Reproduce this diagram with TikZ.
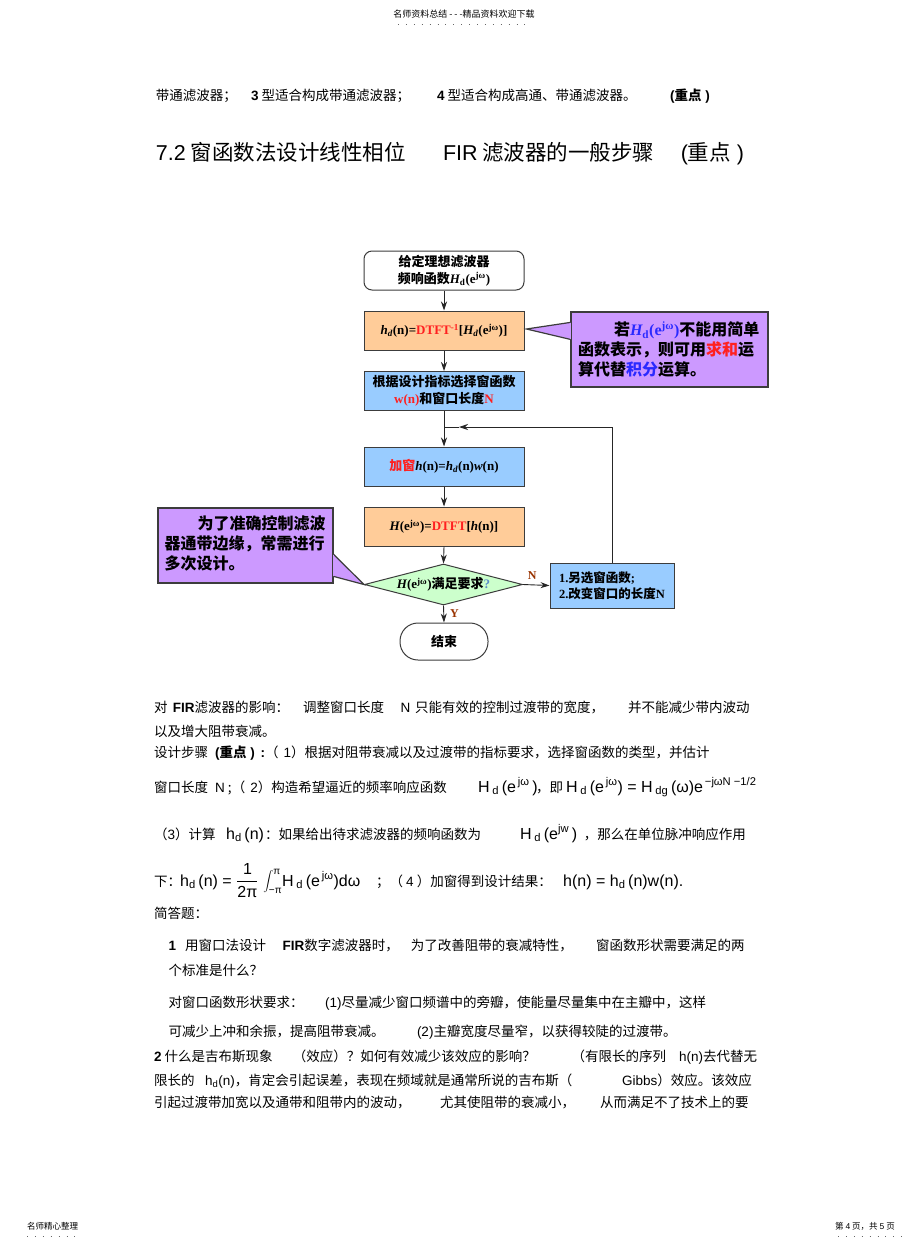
\documentclass[tikz,border=0pt]{standalone}
\usepackage{fontspec}
\setmainfont{Noto Sans CJK SC}
\newfontfamily\lat{Liberation Sans}
\newfontfamily\tms{Liberation Serif}
\usetikzlibrary{shapes.geometric,arrows.meta,calc}
\definecolor{boxor}{HTML}{FFCC99}
\definecolor{boxbl}{HTML}{99CCFF}
\definecolor{boxgr}{HTML}{CCFFCC}
\definecolor{callp}{HTML}{CC99FF}
\definecolor{edgeg}{HTML}{3C3C3C}
\definecolor{tred}{HTML}{FF2020}
\definecolor{tblue}{HTML}{2A2AFF}
\definecolor{lblbr}{HTML}{993300}
\definecolor{qblue}{HTML}{5B8FC9}
\newcommand\fb{\tms\bfseries\upshape}
\newcommand\fbi{\tms\bfseries\itshape}
\newcommand\lsub[1]{\textsubscript{#1}}
\newcommand\lsup[1]{\textsuperscript{#1}}
\begin{document}
\begin{tikzpicture}[x=1pt,y=-1pt,
  bt/.style={anchor=base west, inner sep=0pt, font=\fontsize{13.5}{16}\selectfont},
  fm/.style={anchor=base west, inner sep=0pt, font=\lat\fontsize{16}{18}\selectfont},
  tt/.style={anchor=base west, inner sep=0pt, font=\fontsize{21.5}{24}\selectfont},
  sm/.style={anchor=base west, inner sep=0pt, font=\fontsize{8.5}{10}\selectfont},
  dots/.style={dash pattern=on 0.9pt off 7pt, line width=0.9pt, black!60},
  fbox/.style={draw=edgeg, line width=1pt, minimum width=160pt, minimum height=39pt, inner sep=2pt, align=center, font=\fontsize{13}{17}\selectfont\bfseries},
  arr/.style={-{Stealth[length=9pt,width=6pt]}, line width=0.9pt, black!85},
  plain/.style={line width=0.9pt, black!85},
  callout/.style={draw=edgeg, fill=callp, line width=1.2pt, inner sep=0pt, font=\fontsize{16}{20}\selectfont\bfseries, align=left},
  yn/.style={font=\fb\fontsize{12}{14}\selectfont, text=lblbr, inner sep=1pt}
]
\fill[white] (0,0) rectangle (920,1248);
\path[use as bounding box] (0,0) rectangle (920,1248);

% header / footer
\node[anchor=base, inner sep=0pt, font=\fontsize{9}{10}\selectfont] (hdr) at (464,17.5) {名师资料总结 - - -精品资料欢迎下载};
\draw[dots] (398,24.5) -- (532,24.5);
\node[sm] (ftl) at (27,1229) {名师精心整理};
\draw[dots] (27,1236.5) -- (77,1236.5);
\node[sm] (ftr) at (835,1229) {第 {\lat 4} 页，共 {\lat 5} 页};
\draw[dots] (838,1236.5) -- (903,1236.5);

% line 1 and title
\node[bt] (l1a) at (155.7,100) {带通滤波器；};
\node[bt] (l1b) at (250.8,100) {{\lat\bfseries 3} 型适合构成带通滤波器；};
\node[bt] (l1c) at (436.8,100) {{\lat\bfseries 4} 型适合构成高通、带通滤波器。};
\node[bt] (l1d) at (670,100) {{\lat\bfseries (}{\bfseries 重点}{\lat\bfseries\ )}};
\node[tt] (ta) at (155.7,160) {{\lat 7.2} 窗函数法设计线性相位};
\node[tt] (tb) at (442.8,160) {{\lat FIR} 滤波器的一般步骤};
\node[tt] (tc) at (680.6,160) {{\lat (}重点{\lat\ )}};

% ---------------- flowchart ----------------
\node[fbox, rounded corners=8pt, fill=white] (st) at (444,270.5) {给定理想滤波器\\频响函数{\fbi H}{\fb\lsub{d}(e\lsup{jω})}};
\node[fbox, fill=boxor] (b2) at (444,330.5) {{\fbi h\lsub{d}}{\fb(n)=}{\fb\color{tred}DTFT\lsup{-1}}{\fb[}{\fbi H\lsub{d}}{\fb(e\lsup{jω})]}};
\node[fbox, fill=boxbl] (b3) at (444,391) {根据设计指标选择窗函数\\{\fb\color{tred}w(n)}和窗口长度{\fb\color{tred}N}};
\node[fbox, fill=boxbl] (b4) at (444,466.5) {{\color{tred}加窗}{\fbi h}{\fb(n)=}{\fbi h\lsub{d}}{\fb(n)}{\fbi w}{\fb(n)}};
\node[fbox, fill=boxor] (b5) at (444,526.5) {{\fbi H}{\fb(e\lsup{jω})=}{\fb\color{tred}DTFT}{\fb[}{\fbi h}{\fb(n)]}};
\node[diamond, draw=edgeg, fill=boxgr, line width=1pt, aspect=3.85, inner sep=0pt, minimum width=158pt, minimum height=41pt, font=\fontsize{13}{15}\selectfont\bfseries] (dm) at (443.5,584.5) {{\fbi H}{\fb(e\lsup{jω})}满足要求{\fb\color{qblue}?}};
\node[draw=edgeg, line width=1pt, rounded corners=18pt, minimum width=88pt, minimum height=37pt, fill=white, font=\fontsize{13}{15}\selectfont\bfseries] (en) at (444,641.5) {结束};
\node[fbox, fill=boxbl, minimum width=124pt, minimum height=45pt, align=left, font=\fontsize{12.5}{16.5}\selectfont\bfseries] (rb) at (612,585.5) {{\fb 1.}另选窗函数{\fb;}\\{\fb 2.}改变窗口的长度{\fb N}};

\coordinate (jn) at (444,427);
\coordinate (fbtip) at (459,427);

\draw[arr] (st.south) -- (b2.north);
\draw[arr] (b2.south) -- (b3.north);
\draw[arr] (b3.south) -- (b4.north);
\draw[arr] (b4.south) -- (b5.north);
\draw[arr] (b5.south) -- (dm.north);
\draw[arr] (dm.east) -- (rb.west) node[yn, pos=0.35, above=4pt] (nl) {N};
\draw[arr] (dm.south) -- (en.north) node[yn, midway, right=5pt] (yl) {Y};
\draw[arr] (rb.north) |- (fbtip);
\draw[plain] (fbtip) -- (jn);

% right callout
\node[callout, minimum width=197pt, minimum height=75pt, text width=183pt, inner xsep=7pt] (rc) at (669.5,349.5)
 {\hspace*{36pt}若{\color{tblue}{\fbi H}{\fb\lsub{d}(e\lsup{jω})}}不能用简单\\函数表示，则可用{\color{tred}求和}运\\算代替{\color{tblue}积分}运算。};
\coordinate (rca) at ($(rc.north west)+(0,11)$);
\coordinate (rcb) at ($(rc.north west)+(0,28)$);
\coordinate (rct) at ($(b2.east)+(2,-1.5)$);
\fill[callp] (rca) -- (rct) -- (rcb) -- cycle;
\draw[edgeg, line width=1.2pt, line join=miter] (rca) -- (rct) -- (rcb);
\fill[callp] ($(rca)+(-0.8,0.8)$) rectangle ($(rcb)+(0.8,-0.8)$);

% left callout
\node[callout, minimum width=175pt, minimum height=75pt, text width=162pt, inner xsep=6.5pt] (lc) at (245.5,545.5)
 {\hspace*{33pt}为了准确控制滤波\\器通带边缘，常需进行\\多次设计。\vspace*{5pt}};
\coordinate (lca) at ($(lc.north east)+(0,47)$);
\coordinate (lcb) at ($(lc.north east)+(0,69)$);
\fill[callp] (lca) -- (dm.west) -- (lcb) -- cycle;
\draw[edgeg, line width=1.2pt, line join=miter] (lca) -- (dm.west) -- (lcb);
\fill[callp] ($(lca)+(-0.8,0.8)$) rectangle ($(lcb)+(0.8,-0.8)$);

% ---------------- body text ----------------
\node[bt] (a1) at (154,712) {对};
\node[bt] (a2) at (172.6,712) {{\lat\bfseries FIR}滤波器的影响：};
\node[bt] (a3) at (303,712) {调整窗口长度};
\node[bt] (a4) at (400.5,712) {{\lat N}};
\node[bt] (a5) at (415,712) {只能有效的控制过渡带的宽度，};
\node[bt] (a6) at (628,712) {并不能减少带内波动};
\node[bt] (b1) at (154,736) {以及增大阻带衰减。};
\node[bt] (c1) at (154,757) {设计步骤\hspace{4pt} {\lat\bfseries (}{\bfseries 重点}{\lat\bfseries\ )\hspace{2pt} :}（\hspace{2pt} {\lat 1}）根据对阻带衰减以及过渡带的指标要求，选择窗函数的类型，并估计};
\node[bt] (d1) at (154,792) {窗口长度\hspace{4pt} {\lat N} ;（\hspace{2pt} {\lat 2}）构造希望逼近的频率响应函数};
\node[fm] (d2) at (478,792) {H\,\lsub{d}\,(e\lsup{\,jω}\,)};
\node[bt] (d3) at (536,792) {，即};
\node[fm] (d4) at (566,792) {H\,\lsub{d}\,(e\lsup{\,jω}) = H\,\lsub{dg}\,(ω)e\lsup{\,−jωN −1/2}};
\node[bt] (e1) at (154,839) {（{\lat 3}）计算};
\node[fm] (e2) at (226,839) {h\lsub{d}\,(n)};
\node[bt] (e3) at (265,839) {：如果给出待求滤波器的频响函数为};
\node[fm] (e4) at (520,839) {H\,\lsub{d}\,(e\lsup{jw}\,)};
\node[bt] (e5) at (583.6,839) {，那么在单位脉冲响应作用};
\node[bt] (f1) at (154,886) {下：};
\node[fm] (f2) at (180,886) {h\lsub{d}\,(n) = ${\displaystyle\frac{\hbox{1}}{\hbox{2π}}}\;{\displaystyle\int\nolimits_{\hbox{\fontsize{10}{10}\selectfont −π}}^{\hbox{\fontsize{10}{10}\selectfont π}}}$H\,\lsub{d}\,(e\lsup{\,jω})dω};
\node[bt] (f3) at (376,886) {；（ {\lat 4} ）加窗得到设计结果：};
\node[fm] (f4) at (563,886) {h(n) = h\lsub{d}\,(n)w(n).};
\node[bt] (g1) at (154,918) {简答题：};
\node[bt] (h1) at (168.5,950) {{\lat\bfseries 1}};
\node[bt] (h2) at (185,950) {用窗口法设计};
\node[bt] (h3) at (282.5,950) {{\lat\bfseries FIR}数字滤波器时，};
\node[bt] (h4) at (410.6,950) {为了改善阻带的衰减特性，};
\node[bt] (h5) at (596,950) {窗函数形状需要满足的两};
\node[bt] (i1) at (168.5,975) {个标准是什么？};
\node[bt] (j1) at (168.5,1007) {对窗口函数形状要求：};
\node[bt] (j2) at (325,1007) {{\lat (1)}尽量减少窗口频谱中的旁瓣，使能量尽量集中在主瓣中，这样};
\node[bt] (k1) at (168.5,1036) {可减少上冲和余振，提高阻带衰减。};
\node[bt] (k2) at (416.8,1036) {{\lat (2)}主瓣宽度尽量窄，以获得较陡的过渡带。};
\node[bt] (m1) at (154,1061) {{\lat\bfseries 2} 什么是吉布斯现象};
\node[bt] (m2) at (292.6,1061) {（效应）？如何有效减少该效应的影响？};
\node[bt] (m3) at (571.4,1061) {（有限长的序列};
\node[bt] (m4) at (679,1061) {{\lat h(n)}去代替无};
\node[bt] (n1) at (154,1085) {限长的};
\node[bt] (n2) at (205,1085) {{\lat h\lsub{d}(n)}，肯定会引起误差，表现在频域就是通常所说的吉布斯（};
\node[bt] (n3) at (622,1085) {{\lat Gibbs}）效应。该效应};
\node[bt] (o1) at (154,1107) {引起过渡带加宽以及通带和阻带内的波动，};
\node[bt] (o2) at (440,1107) {尤其使阻带的衰减小，};
\node[bt] (o3) at (600,1107) {从而满足不了技术上的要};
\end{tikzpicture}
\end{document}
